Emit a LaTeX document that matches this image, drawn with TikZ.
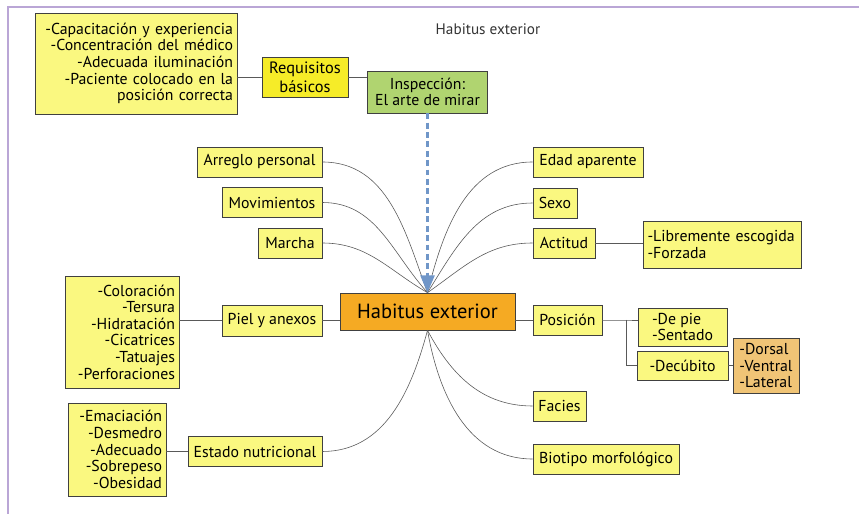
\documentclass[tikz,border=0pt]{standalone}
\usepackage{fontspec}
\setmainfont{PT Sans}
\usetikzlibrary{arrows,calc}

\definecolor{boxyellow}{RGB}{250,248,128}
\definecolor{reqyellow}{RGB}{246,236,40}
\definecolor{inspgreen}{RGB}{176,212,112}
\definecolor{haborange}{RGB}{245,170,35}
\definecolor{lyingorange}{RGB}{240,196,118}
\definecolor{lookblue}{RGB}{112,150,200}
\definecolor{framepurple}{RGB}{186,166,214}

\tikzset{
  box/.style={draw=black!75, fill=boxyellow, line width=0.6pt, minimum height=0.9cm,
    inner xsep=0.12cm, font=\fontsize{13.5}{14.2}\selectfont},
  lbox/.style={box, align=right},
  rbox/.style={box, align=left},
  link/.style={draw=black!65, line width=0.5pt},
  look/.style={draw=lookblue, line width=2.5pt, dash pattern=on 5pt off 3pt, -triangle 45},
  frame/.style={draw=framepurple, line width=2.5pt}
}

\begin{document}
\begin{tikzpicture}[x=0.03cm, y=-0.03cm]
    \useasboundingbox (0,0) rectangle (859,514);
    \draw[frame] (8,514) -- (8,7) -- (859,7);

    \node[font=\fontsize{13}{15}\selectfont, text=black!80] (title) at (488,29) {Habitus exterior};

    % requisitos e inspeccion
    \node[lbox, text width=5.82cm, minimum height=3.03cm] (reqlist) at (136,63.5)
      {-Capacitación y experiencia\\-Concentración del médico\\-Adecuada iluminación\\-Paciente colocado en la\\posición correcta};
    \node[box, fill=reqyellow, align=center, minimum width=2.58cm, minimum height=1.2cm,
      font=\fontsize{14}{16.5}\selectfont] (req) at (305,77) {Requisitos\\básicos};
    \node[box, fill=inspgreen, align=center, minimum width=3.6cm, minimum height=1.26cm] (insp) at (427.5,92) {Inspección:\\El arte de mirar};

    \node[box, fill=haborange, minimum width=5.25cm, minimum height=1.11cm, font=\fontsize{17.5}{19}\selectfont] (hab) at (427.5,311.5) {Habitus exterior};
    \coordinate (hubn) at (hab.north);
    \coordinate (hubs) at (hab.south);

    % lado izquierdo
    \node[box, minimum width=3.75cm] (arr) at (259.5,162) {Arreglo personal};
    \node[box, minimum width=3cm] (mov) at (272,202.5) {Movimientos};
    \node[box, minimum width=1.92cm] (mar) at (290,243) {Marcha};
    \node[box, minimum width=3cm, minimum height=0.93cm] (piel) at (272,320.5) {Piel y anexos};
    \node[lbox, text width=3.18cm, minimum height=3.36cm] (piellist) at (122,332)
      {-Coloración\\-Tersura\\-Hidratación\\-Cicatrices\\-Tatuajes\\-Perforaciones};
    \node[box, minimum width=4.02cm] (nut) at (255,451.5) {Estado nutricional};
    \node[lbox, text width=2.7cm, minimum height=2.79cm] (nutlist) at (117,449.5)
      {-Emaciación\\-Desmedro\\-Adecuado\\-Sobrepeso\\-Obesidad};

    % lado derecho
    \node[box, minimum width=3.3cm] (edad) at (588,162) {Edad aparente};
    \node[box, minimum width=1.32cm] (sexo) at (555,203) {Sexo};
    \node[box, minimum width=1.86cm] (act) at (564,243) {Actitud};
    \node[rbox, text width=4.5cm, minimum height=1.41cm] (actlist) at (722.5,244.5)
      {-Libremente escogida\\-Forzada};
    \node[box, minimum width=2.07cm] (pos) at (567.5,320) {Posición};
    \node[rbox, minimum width=2.67cm, minimum height=1.14cm] (pie) at (682.5,327) {-De pie\\-Sentado};
    \node[box, minimum width=2.73cm, minimum height=0.87cm] (decu) at (682.5,365.5) {-Decúbito};
    \node[rbox, fill=lyingorange, minimum width=1.98cm, minimum height=1.65cm, inner xsep=0.1cm] (dors) at (766,365.5)
      {-Dorsal\\-Ventral\\-Lateral};
    \node[box, minimum width=1.59cm] (fac) at (559.5,406) {Facies};
    \node[box, minimum width=4.38cm] (bio) at (606,459) {Biotipo morfológico};

    % conexiones rectas
    \draw[link] (reqlist.east |- req.west) -- (req.west);
    \draw[link] (req.east) -- (req.east -| insp.west);
    \draw[link] (piellist.east |- piel.west) -- (piel.west);
    \draw[link] (piel.east) -- (piel.east -| hab.west);
    \draw[link] (nutlist.east |- nut.west) -- (nut.west);
    \draw[link] (act.east) -- (act.east -| actlist.west);
    \draw[link] (hab.east |- pos.west) -- (pos.west);
    \coordinate (split) at ($(pos.east)+(24,0)$);
    \draw[link] (pos.east) -- (split) -- (split -| pie.west);
    \draw[link] (split) |- (decu.west);
    \draw[link] (decu.east) -- (dors.west);

    % curvas hacia el centro
    \draw[link] (arr.east) to[out=0, in=110] (hubn);
    \draw[link] (mov.east) to[out=0, in=132] (hubn);
    \draw[link] (mar.east) to[out=0, in=150] (hubn);
    \draw[link] (edad.west) to[out=180, in=76] (hubn);
    \draw[link] (sexo.west) to[out=180, in=58] (hubn);
    \draw[link] (act.west) to[out=180, in=35] (hubn);
    \draw[link] (nut.east) to[out=0, in=255] (hubs);
    \draw[link] (fac.west) to[out=180, in=298] (hubs);
    \draw[link] (bio.west) to[out=180, in=280] (hubs);

    \draw[look] (insp.south) -- (hubn);
\end{tikzpicture}
\end{document}
